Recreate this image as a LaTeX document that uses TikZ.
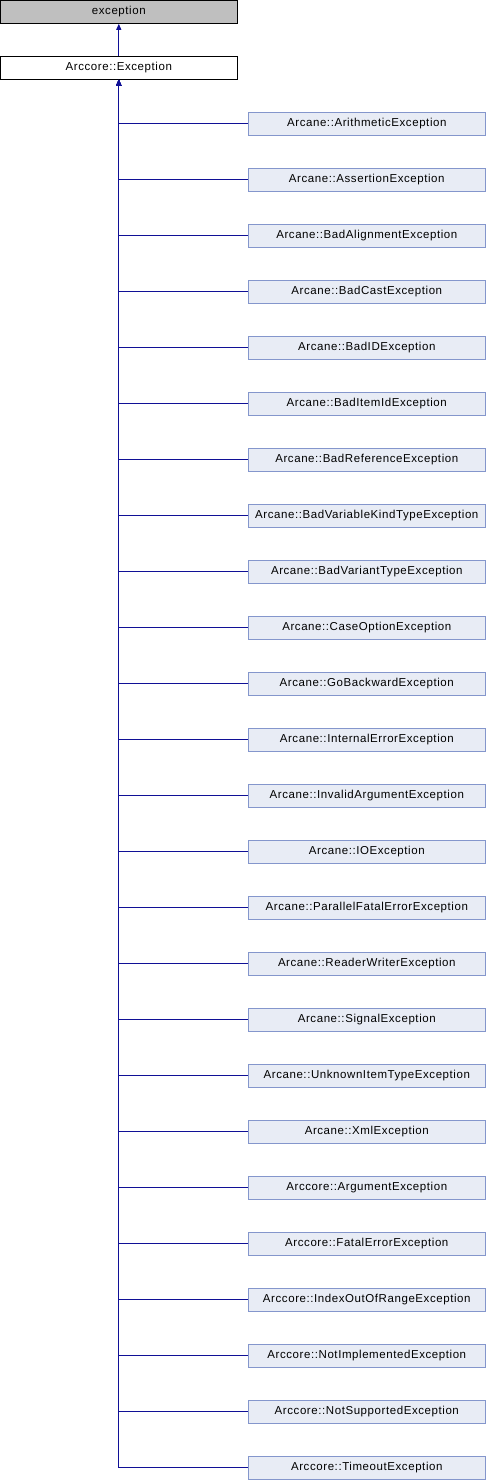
\documentclass[tikz,border=0pt]{standalone}
\usepackage{fontspec}
\setmainfont{Liberation Sans}[LetterSpace=5]
\usetikzlibrary{arrows.meta}
\definecolor{edgeblue}{HTML}{101096}
\definecolor{childfill}{HTML}{E8ECF5}
\definecolor{childborder}{HTML}{8496CC}
\definecolor{extfill}{HTML}{BFBFBF}
\begin{document}
\begin{tikzpicture}[x=1pt,y=-1pt,
  box/.style={draw,rectangle,minimum width=237pt,minimum height=23pt,inner sep=0pt,
    font=\fontsize{11.5}{13}\selectfont,line width=1pt},
  extbox/.style={box,fill=extfill,draw=black},
  mainbox/.style={box,fill=white,draw=black},
  childbox/.style={box,fill=childfill,draw=childborder},
  inh/.style={draw=edgeblue,line width=1.1pt,-{Triangle[width=5pt,length=6pt]}}]
\useasboundingbox (0,0) rectangle (486,1480);
\node[extbox] (ext) at (118.8,11.8) {exception};
\node[mainbox] (exc) at (118.8,67.8) {Arccore::Exception};
\draw[inh] (exc.north) -- (ext.south);
\foreach \name [count=\i from 0] in {
  Arcane::ArithmeticException,
  Arcane::AssertionException,
  Arcane::BadAlignmentException,
  Arcane::BadCastException,
  Arcane::BadIDException,
  Arcane::BadItemIdException,
  Arcane::BadReferenceException,
  Arcane::BadVariableKindTypeException,
  Arcane::BadVariantTypeException,
  Arcane::CaseOptionException,
  Arcane::GoBackwardException,
  Arcane::InternalErrorException,
  Arcane::InvalidArgumentException,
  Arcane::IOException,
  Arcane::ParallelFatalErrorException,
  Arcane::ReaderWriterException,
  Arcane::SignalException,
  Arcane::UnknownItemTypeException,
  Arcane::XmlException,
  Arccore::ArgumentException,
  Arccore::FatalErrorException,
  Arccore::IndexOutOfRangeException,
  Arccore::NotImplementedException,
  Arccore::NotSupportedException,
  Arccore::TimeoutException}{
  \node[childbox] (c\i) at (366.8,{123.8+56*\i}) {\name};
  \draw[inh] (c\i.west) -| (exc.south);
}
\end{tikzpicture}
\end{document}
